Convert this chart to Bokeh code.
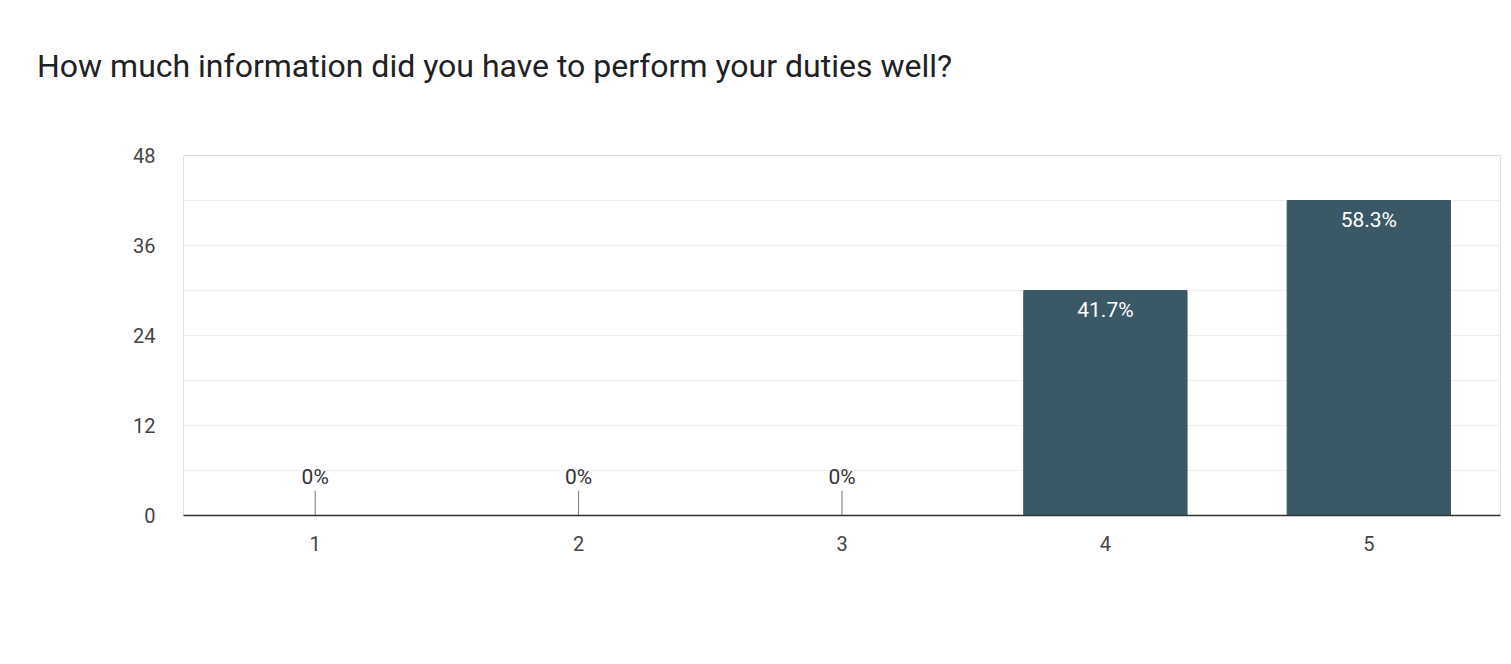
from bokeh.plotting import figure
from bokeh.models import Div, ColumnDataSource
from bokeh.layouts import column
from bokeh.core.properties import value
from bokeh.embed import file_html
from bokeh.resources import INLINE

categories = ["1", "2", "3", "4", "5"]
counts = [0, 0, 0, 30, 42]
labels = ["0%", "0%", "0%", "41.7%", "58.3%"]

title = Div(text="How much information did you have to perform your duties well?",
            width=1500, height=118, margin=(0, 0, 0, 0),
            styles={"font-family": "Roboto", "font-size": "32px", "color": "#202124",
                    "padding-top": "44px", "padding-left": "37px"})

p = figure(x_range=categories, y_range=(0, 48), width=1503, height=530,
           output_backend="svg", toolbar_location=None,
           min_border_left=183, min_border_right=3, min_border_top=37, min_border_bottom=133)

src = ColumnDataSource(dict(x=categories, top=counts, label=labels))
big = ColumnDataSource(dict(x=categories[3:], top=counts[3:], label=labels[3:]))
zero = ColumnDataSource(dict(x=categories[:3], top=counts[:3], label=labels[:3],
                             stem=[3.3] * 3))

p.vbar(x="x", top="top", width=0.62, source=src, color="#3b5866")
p.text(x="x", y="top", text="label", source=big, text_color="white",
       text_align="center", text_baseline="top", y_offset=7,
       text_font=value("Roboto"), text_font_size="21px")
p.segment(x0="x", y0="top", x1="x", y1="stem", source=zero, color="#777777", line_width=1)
p.text(x="x", y="stem", text="label", source=zero, text_color="#333333",
       text_align="center", text_baseline="bottom", y_offset=-2,
       text_font=value("Roboto"), text_font_size="21px")

p.yaxis.ticker = [0, 12, 24, 36, 48]
p.ygrid.ticker = [0, 6, 12, 18, 24, 30, 36, 42, 48]
p.ygrid.grid_line_color = "#eeeeee"
p.xgrid.grid_line_color = None
p.yaxis.axis_line_color = None
p.yaxis.major_tick_line_color = None
p.yaxis.minor_tick_line_color = None
p.xaxis.axis_line_color = "#333333"
p.xaxis.axis_line_width = 1.5
p.xaxis.major_tick_line_color = None
for ax in (p.xaxis, p.yaxis):
    ax.major_label_text_font = "Roboto"
    ax.major_label_text_font_size = "20px"
    ax.major_label_text_color = "#444444"
p.yaxis.major_label_standoff = 22
p.xaxis.major_label_standoff = 14
p.outline_line_color = "#e0e0e0"

layout = column(title, p, spacing=0)
open("out.html", "w").write(file_html(layout, INLINE))
